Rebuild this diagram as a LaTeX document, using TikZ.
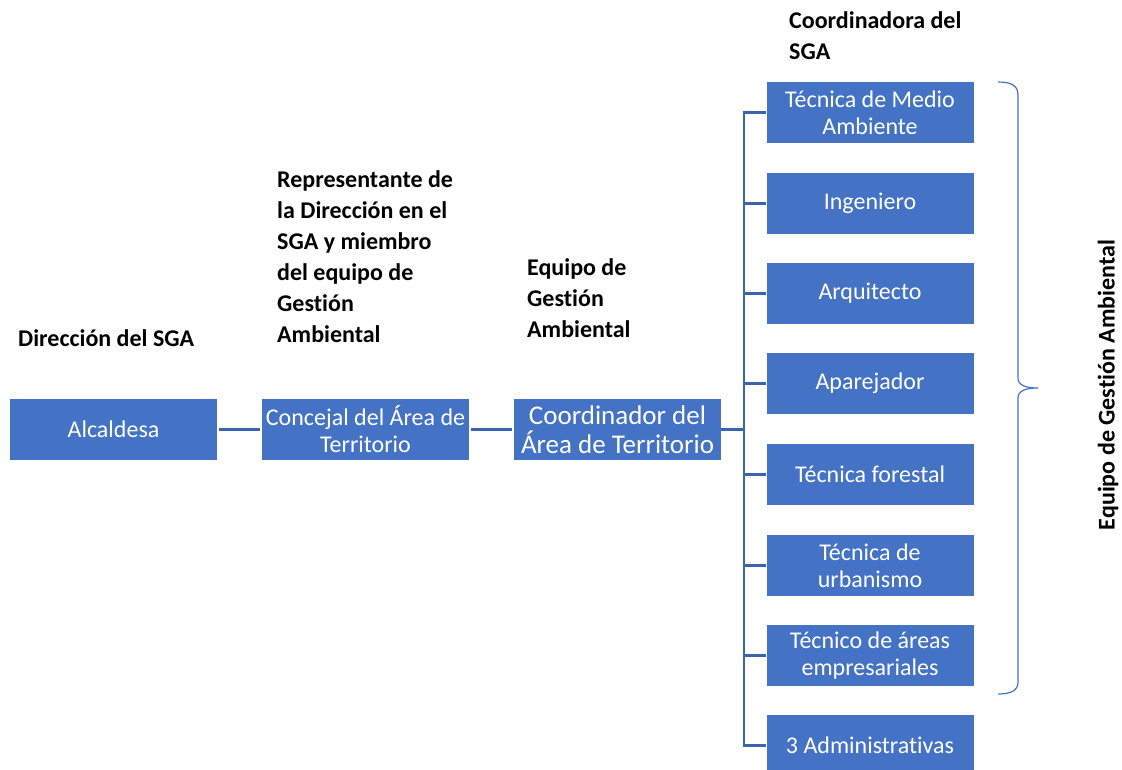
\documentclass[tikz,border=0pt]{standalone}
\usepackage{fontspec}
\setmainfont[Ligatures=NoCommon]{Carlito}
\definecolor{boxblue}{HTML}{4472C4}
\definecolor{lineblue}{HTML}{3A64AE}
\begin{document}
\begin{tikzpicture}[x=1pt,y=-1pt,
  box/.style={fill=boxblue, text=white, minimum width=207pt, minimum height=61pt, inner sep=0pt, align=center, font=\fontsize{24}{27}\selectfont},
  bigbox/.style={box, font=\fontsize{27}{29}\selectfont},
  conn/.style={draw=lineblue, line width=2.2pt},
  brace/.style={draw=boxblue, line width=1.2pt},
  lab/.style={anchor=north west, align=left, inner sep=0pt, font=\bfseries\fontsize{24}{31}\selectfont}]
\useasboundingbox (0,0) rectangle (1122,769);

% main row
\node[box] (alc) at (113.5,429.5) {Alcaldesa};
\node[box] (con) at (365.5,429.5) {Concejal del Área de\\Territorio};
\node[bigbox] (coo) at (617.5,429.5) {Coordinador del\\Área de Territorio};

% right column
\node[box] (t1) at (870,112.5) {Técnica de Medio\\Ambiente};
\node[box] (t2) at (870,203.5) {Ingeniero};
\node[box] (t3) at (870,293.5) {Arquitecto};
\node[box] (t4) at (870,383.5) {Aparejador};
\node[box] (t5) at (870,474.5) {Técnica forestal};
\node[box] (t6) at (870,565.5) {Técnica de\\urbanismo};
\node[box] (t7) at (870,655.5) {Técnico de áreas\\empresariales};
\node[box] (t8) at (870,745.5) {3 Administrativas};

% connectors
\coordinate (trunk) at (744,429.5);
\draw[conn, shorten <=2pt, shorten >=2pt] (alc.east) -- (con.west);
\draw[conn, shorten <=2pt, shorten >=2pt] (con.east) -- (coo.west);
\draw[conn] (coo.east) -- (trunk);
\draw[conn] (t1.west) -- (t1.west -| trunk) -- (t8.west -| trunk) -- (t8.west);
\foreach \n in {t2,t3,t4,t5,t6,t7}{
  \draw[conn] (\n.west) -- (\n.west -| trunk);
}

% brace
\draw[brace] (998,82) .. controls (1012,82) and (1018,86) .. (1018,95)
  -- (1018,378) .. controls (1018,385) and (1025,388) .. (1038,388)
  .. controls (1025,388) and (1018,391) .. (1018,398)
  -- (1018,682) .. controls (1018,690) and (1012,694) .. (998,694);

% labels
\node[lab] (l1) at (18,329) {Dirección del SGA};
\node[lab] (l2) at (277,170) {Representante de\\la Dirección en el\\SGA y miembro\\del equipo de\\Gestión\\Ambiental};
\node[lab] (l3) at (527,258) {Equipo de\\Gestión\\Ambiental};
\node[lab] (l4) at (789,11) {Coordinadora del\\SGA};
\node[rotate=90, inner sep=0pt, font=\bfseries\fontsize{24}{28}\selectfont] (l5) at (1108,385) {Equipo de Gestión Ambiental};
\end{tikzpicture}
\end{document}
